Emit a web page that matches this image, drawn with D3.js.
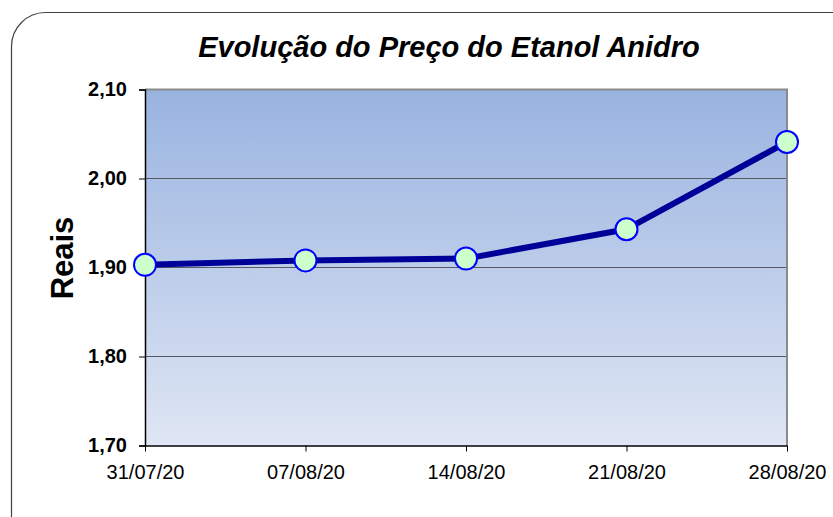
<!DOCTYPE html>
<html>
<head>
<meta charset="utf-8">
<script src="https://cdn.jsdelivr.net/npm/d3@7"></script>
<style>
  body { margin: 0; background: #fff; }
  text { font-family: "Liberation Sans", Arial, sans-serif; }
</style>
</head>
<body>
<div id="chart"></div>
<script>
// data
const dates = ["31/07/20", "07/08/20", "14/08/20", "21/08/20", "28/08/20"];
const prices = [1.903, 1.908, 1.910, 1.943, 2.041];
const yTicks = [1.70, 1.80, 1.90, 2.00, 2.10];

const W = 833, H = 517;
const margin = { top: 89.5, right: 46, bottom: 71.5, left: 145 };
const width = W - margin.left - margin.right,
  height = H - margin.top - margin.bottom;

const svg = d3.select("#chart")
  .append("svg")
  .attr("width", W)
  .attr("height", H);

// gradient for the plot area
const grad = svg.append("defs").append("linearGradient")
  .attr("id", "bg").attr("x1", 0).attr("y1", 0).attr("x2", 0).attr("y2", 1);
grad.append("stop").attr("offset", "0%").attr("stop-color", "#99b3e0");
grad.append("stop").attr("offset", "100%").attr("stop-color", "#dfe6f4");

// outer frame
svg.append("rect")
  .attr("x", 11.5).attr("y", 12.5)
  .attr("width", 860).attr("height", 540)
  .attr("rx", 34).attr("ry", 34)
  .attr("fill", "none")
  .attr("stroke", "#404040")
  .attr("stroke-width", 1.2);

const g = svg.append("g")
  .attr("transform", `translate(${margin.left},${margin.top})`);

const x = d3.scalePoint().domain(dates).range([0, width]);
const y = d3.scaleLinear().domain([1.70, 2.10]).range([height, 0]);

g.append("rect")
  .attr("width", width).attr("height", height)
  .attr("fill", "url(#bg)");

// gridlines
g.selectAll(".grid")
  .data(yTicks.slice(1, -1))
  .enter()
  .append("line")
  .attr("x1", 0).attr("x2", width)
  .attr("y1", d => y(d)).attr("y2", d => y(d))
  .attr("stroke", "#555a66")
  .attr("stroke-width", 1.2);

// top and right border, gray
g.append("path")
  .attr("d", `M0,0H${width}V${height}`)
  .attr("fill", "none")
  .attr("stroke", "#8a8a8a")
  .attr("stroke-width", 2);

const fmt = d => d.toFixed(2).replace(".", ",");

// y axis
const yAxis = g.append("g")
  .call(d3.axisLeft(y).tickValues(yTicks).tickFormat(fmt).tickSize(6).tickPadding(12));
yAxis.select(".domain").attr("stroke", "#000").attr("stroke-width", 1.5);
yAxis.selectAll("text")
  .attr("font-size", 20).attr("font-weight", "bold").attr("fill", "#000")
  .attr("font-family", "Liberation Sans, Arial, sans-serif");

// x axis
const xAxis = g.append("g")
  .attr("transform", `translate(0,${height})`)
  .call(d3.axisBottom(x).tickSize(6).tickPadding(13).tickSizeOuter(0));
xAxis.select(".domain").attr("stroke", "#000").attr("stroke-width", 1.5);
xAxis.selectAll("text")
  .attr("font-size", 20).attr("fill", "#000")
  .attr("font-family", "Liberation Sans, Arial, sans-serif");

// line
const line = d3.line()
  .x((d, i) => x(dates[i]))
  .y(d => y(d));

g.append("path")
  .datum(prices)
  .attr("d", line)
  .attr("fill", "none")
  .attr("stroke", "#000099")
  .attr("stroke-width", 6)
  .attr("stroke-linejoin", "round");

g.selectAll(".pt")
  .data(prices)
  .enter()
  .append("circle")
  .attr("cx", (d, i) => x(dates[i]))
  .attr("cy", d => y(d))
  .attr("r", 11)
  .attr("fill", "#ccffcc")
  .attr("stroke", "#0000ff")
  .attr("stroke-width", 2);

// title
svg.append("text")
  .attr("x", 449).attr("y", 57)
  .attr("text-anchor", "middle")
  .attr("font-size", 29)
  .attr("font-weight", "bold")
  .attr("font-style", "italic")
  .text("Evolução do Preço do Etanol Anidro");

// y label
svg.append("text")
  .attr("transform", "translate(73,258) rotate(-90)")
  .attr("text-anchor", "middle")
  .attr("font-size", 31)
  .attr("font-weight", "bold")
  .text("Reais");
</script>
</body>
</html>
